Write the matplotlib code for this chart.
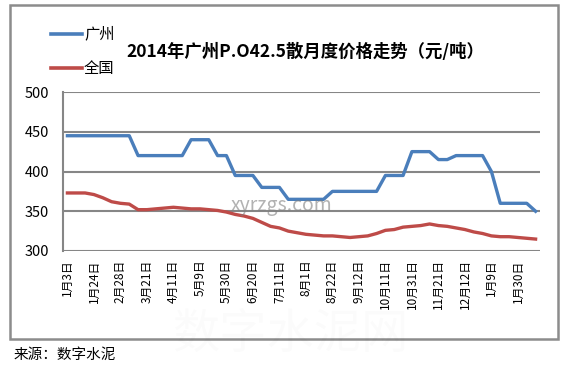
import numpy as np
import matplotlib
import matplotlib.pyplot as plt
from matplotlib.patches import Rectangle

matplotlib.use('Agg')
plt.rcParams['font.family'] = ['Noto Sans CJK SC', 'DejaVu Sans']

tick_labels = ['1月3日', '1月24日', '2月28日', '3月21日', '4月11日', '5月9日',
               '5月30日', '6月20日', '7月11日', '8月1日', '8月22日', '9月12日',
               '10月11日', '10月31日', '11月21日', '12月12日', '1月9日', '1月30日']

guangzhou = [445, 445, 445, 445, 445, 445, 445, 445,
             420, 420, 420, 420, 420, 420,
             440, 440, 440,
             420, 420,
             395, 395, 395,
             380, 380, 380,
             365, 365, 365, 365, 365,
             375, 375, 375, 375, 375, 375,
             395, 395, 395,
             425, 425, 425,
             415, 415,
             420, 420, 420, 420,
             400,
             360, 360, 360, 360,
             350]

quanguo = [373, 373, 373, 371, 367, 362, 360, 359, 352, 352,
           353, 354, 355, 354, 353, 353, 352, 351, 349, 346,
           344, 341, 336, 331, 329, 325, 323, 321, 320, 319,
           319, 318, 317, 318, 319, 322, 326, 327, 330, 331,
           332, 334, 332, 331, 329, 327, 324, 322, 319, 318,
           318, 317, 316, 315]

x = np.arange(len(guangzhou))

fig = plt.figure(figsize=(5.7, 3.71), dpi=100)
ax = fig.add_axes([63 / 570, 1 - 251 / 371, 477 / 570, 159 / 371])

# outer frame
fig.patches.append(Rectangle((10 / 570, 1 - 339 / 371), 548 / 570, 334 / 371,
                             transform=fig.transFigure, fill=False,
                             edgecolor='#8c8c8c', lw=1.8))

ax.plot(x, guangzhou, color='#4a7ebb', lw=2.4, solid_joinstyle='round')
ax.plot(x, quanguo, color='#be4b48', lw=2.4, solid_joinstyle='round')

ax.set_ylim(300, 500)
ax.set_yticks([300, 350, 400, 450, 500])
ax.set_xlim(-0.5, len(x) - 0.5)
ax.set_xticks(x[::3])
ax.set_xticklabels(tick_labels, rotation=90, fontsize=8.5)
ax.tick_params(axis='both', length=0, colors='black')
ax.tick_params(axis='y', labelsize=10.5, pad=10)
ax.tick_params(axis='x', pad=6)
ax.grid(axis='y', color='#868686', lw=1.5)
ax.set_axisbelow(True)
for s in ['top', 'right', 'bottom']:
    ax.spines[s].set_visible(False)
ax.spines['left'].set_color('#868686')
ax.spines['left'].set_linewidth(1.5)

# legend
fig.lines.append(plt.Line2D([51 / 570, 82 / 570], [1 - 34 / 371, 1 - 34 / 371],
                            color='#4a7ebb', lw=2.6, transform=fig.transFigure))
fig.lines.append(plt.Line2D([51 / 570, 82 / 570], [1 - 68 / 371, 1 - 68 / 371],
                            color='#be4b48', lw=2.6, transform=fig.transFigure))
fig.text(84 / 570, 1 - 34 / 371, '广州', fontsize=11, va='center')
fig.text(84 / 570, 1 - 68 / 371, '全国', fontsize=11, va='center')

fig.text(305 / 570, 1 - 52 / 371, '2014年广州P.O42.5散月度价格走势（元/吨）',
         fontsize=12.5, fontweight='bold', ha='center', va='center')

fig.text(14 / 570, 1 - 355 / 371, '来源：数字水泥', fontsize=10.5, va='center')

# watermarks
fig.text(282 / 570, 1 - 205 / 371, 'xyrzgs.com', fontsize=14, color='#808080',
         alpha=0.6, ha='center', va='center')
fig.text(290 / 570, 1 - 335 / 371, '数字水泥网', fontsize=34, color='#000000',
         alpha=0.015, ha='center', va='center')

fig.savefig('out.png', dpi=100)
